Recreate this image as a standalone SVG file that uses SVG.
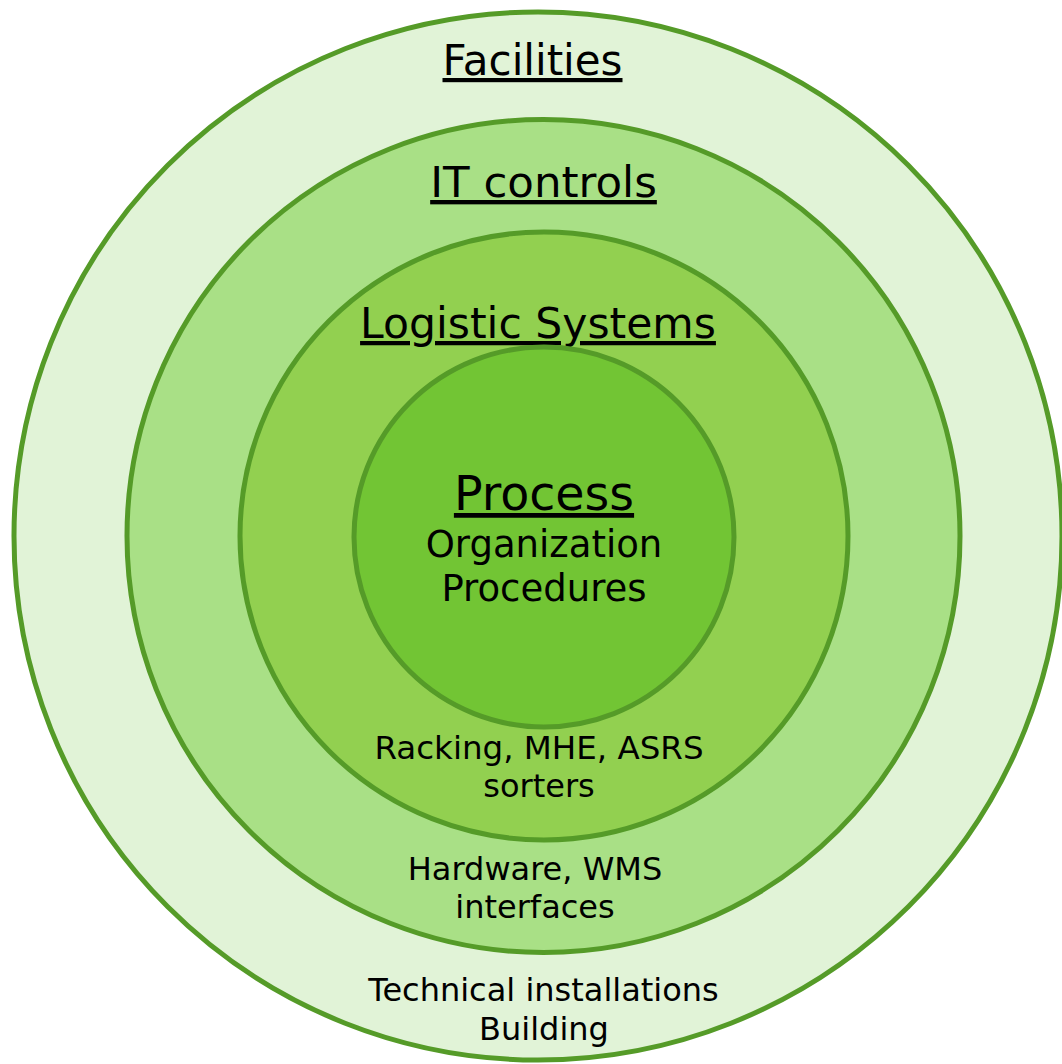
<svg xmlns="http://www.w3.org/2000/svg" width="1062" height="1064" viewBox="0 0 1062 1064">
<style>
.ring{stroke:#559b28;stroke-width:5}
text{font-family:"DejaVu Sans","Liberation Sans",sans-serif;fill:#000;text-anchor:middle}
.t{text-decoration:underline}
.s{font-size:32px}
</style>
<rect width="1062" height="1064" fill="#ffffff"/>
<g id="facilities">
<circle class="ring" cx="538" cy="536" r="524" fill="#e1f3d7"/>
<text class="t" x="532.5" y="75" style="font-size:42px">Facilities</text>
<text class="s" x="543.5" y="1001">Technical installations</text>
<text class="s" x="544" y="1040">Building</text>
</g>
<g id="it-controls">
<circle class="ring" cx="543.5" cy="536" r="416.5" fill="#a9e086"/>
<text class="t" x="543.5" y="197" style="font-size:43.5px">IT controls</text>
<text class="s" x="535" y="880">Hardware, WMS</text>
<text class="s" x="535" y="918">interfaces</text>
</g>
<g id="logistic-systems">
<circle class="ring" cx="544" cy="536" r="304" fill="#92d050"/>
<text class="t" x="538" y="338" style="font-size:42.5px">Logistic Systems</text>
<text class="s" x="539" y="759" style="font-size:32.5px">Racking, MHE, ASRS</text>
<text class="s" x="539" y="797">sorters</text>
</g>
<g id="process">
<circle class="ring" cx="544" cy="537" r="190" fill="#72c534"/>
<text class="t" x="544" y="510" style="font-size:47.5px">Process</text>
<text x="544" y="557" style="font-size:37px">Organization</text>
<text x="544" y="601" style="font-size:37px">Procedures</text>
</g>
<g id="connectors"></g>
</svg>
